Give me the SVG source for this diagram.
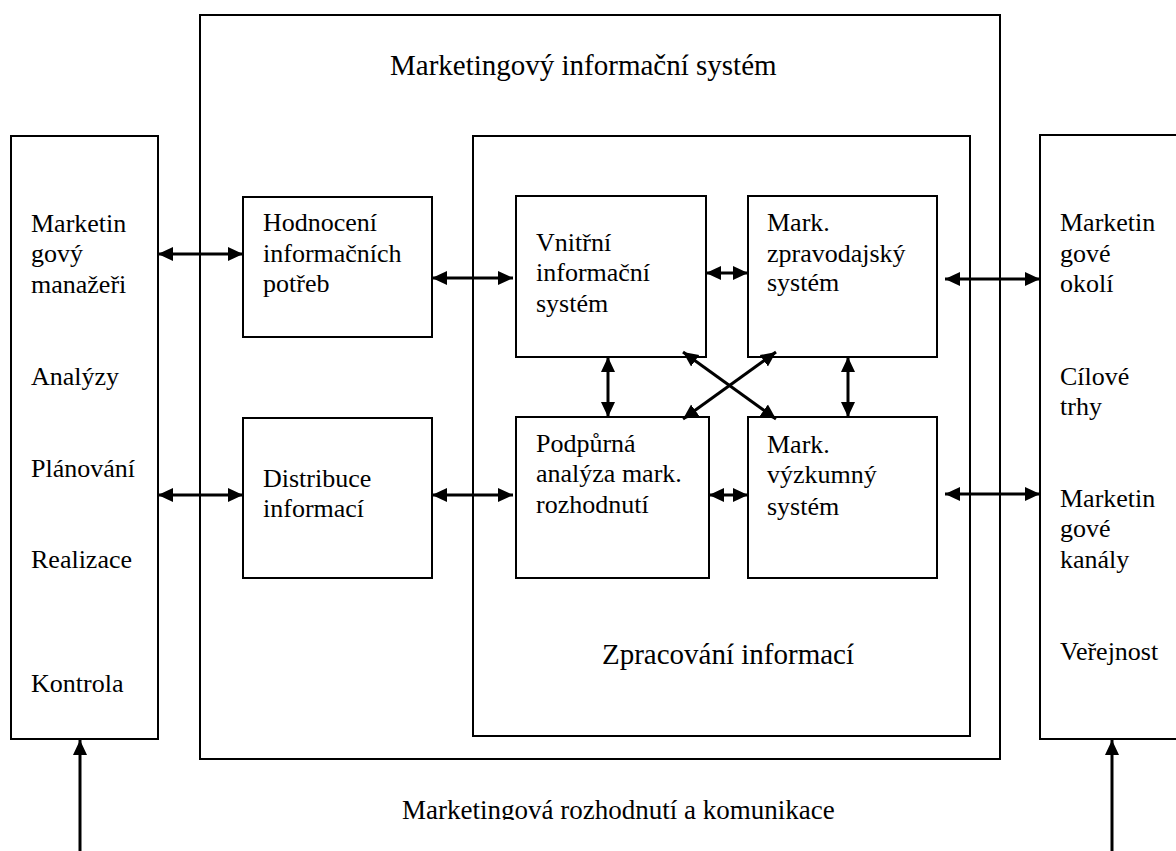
<svg xmlns="http://www.w3.org/2000/svg" width="1176" height="851" viewBox="0 0 1176 851">
<style>
.box{fill:none;stroke:#000;stroke-width:2}
.t{font-family:"Liberation Serif","Times New Roman",serif;font-size:26px;fill:#000}
.big{font-family:"Liberation Serif","Times New Roman",serif;font-size:29px;fill:#000}
.ar{stroke:#000;stroke-width:3;fill:none;marker-start:url(#ah);marker-end:url(#ah)}
.ar1{stroke:#000;stroke-width:3;fill:none;marker-end:url(#ah)}
</style>
<defs>
<marker id="ah" markerUnits="userSpaceOnUse" markerWidth="16" markerHeight="16" refX="15" refY="7" orient="auto-start-reverse" viewBox="0 0 16 14">
<path d="M0,0 L15,7 L0,14 z" fill="#000"/>
</marker>
<clipPath id="bc"><rect x="0" y="0" width="1176" height="820"/></clipPath>
</defs>
<rect width="1176" height="851" fill="#fff"/>

<g id="mis">
<rect class="box" x="200" y="15" width="800" height="744"/>
<text class="big" x="390" y="75">Marketingový informační systém</text>
</g>

<g id="left">
<rect class="box" x="11" y="136" width="147" height="603"/>
<text class="t" x="31" y="232">Marketin</text>
<text class="t" x="31" y="262">gový</text>
<text class="t" x="31" y="293">manažeři</text>
<text class="t" x="31" y="385">Analýzy</text>
<text class="t" x="31" y="477">Plánování</text>
<text class="t" x="31" y="568">Realizace</text>
<text class="t" x="31" y="692">Kontrola</text>
</g>

<g id="right">
<rect class="box" x="1040" y="135" width="200" height="604"/>
<text class="t" x="1060" y="231">Marketin</text>
<text class="t" x="1060" y="262">gové</text>
<text class="t" x="1060" y="292">okolí</text>
<text class="t" x="1060" y="385">Cílové</text>
<text class="t" x="1060" y="415">trhy</text>
<text class="t" x="1060" y="507">Marketin</text>
<text class="t" x="1060" y="537">gové</text>
<text class="t" x="1060" y="568">kanály</text>
<text class="t" x="1060" y="660">Veřejnost</text>
</g>

<g id="hodnoceni">
<rect class="box" x="243" y="197" width="189" height="140"/>
<text class="t" x="263" y="231">Hodnocení</text>
<text class="t" x="263" y="262">informačních</text>
<text class="t" x="263" y="292">potřeb</text>
</g>

<g id="distribuce">
<rect class="box" x="243" y="418" width="189" height="160"/>
<text class="t" x="263" y="487">Distribuce</text>
<text class="t" x="263" y="517">informací</text>
</g>

<g id="zpracovani">
<rect class="box" x="473" y="136" width="497" height="600"/>
<text class="big" x="602" y="664">Zpracování informací</text>
</g>

<g id="vnitrni">
<rect class="box" x="516" y="196" width="190" height="161"/>
<text class="t" x="536" y="251">Vnitřní</text>
<text class="t" x="536" y="281">informační</text>
<text class="t" x="536" y="312">systém</text>
</g>

<g id="zpravodajsky">
<rect class="box" x="748" y="196" width="189" height="161"/>
<text class="t" x="767" y="231">Mark.</text>
<text class="t" x="767" y="262">zpravodajský</text>
<text class="t" x="767" y="291">systém</text>
</g>

<g id="podpurna">
<rect class="box" x="516" y="417" width="193" height="161"/>
<text class="t" x="536" y="452">Podpůrná</text>
<text class="t" x="536" y="482">analýza mark.</text>
<text class="t" x="536" y="513">rozhodnutí</text>
</g>

<g id="vyzkumny">
<rect class="box" x="748" y="417" width="189" height="161"/>
<text class="t" x="767" y="453">Mark.</text>
<text class="t" x="767" y="483">výzkumný</text>
<text class="t" x="767" y="515">systém</text>
</g>

<g id="bottom-label">
<text class="t" x="402" y="819" font-size="27" clip-path="url(#bc)" style="font-size:27px">Marketingová rozhodnutí a komunikace</text>
</g>

<g id="connectors">
<line class="ar" x1="158" y1="254" x2="243" y2="254"/>
<line class="ar" x1="158" y1="495" x2="243" y2="495"/>
<line class="ar" x1="432" y1="278" x2="513" y2="278"/>
<line class="ar" x1="432" y1="495" x2="513" y2="495"/>
<line class="ar" x1="706" y1="273" x2="748" y2="273"/>
<line class="ar" x1="709" y1="495" x2="748" y2="495"/>
<line class="ar" x1="608" y1="357" x2="608" y2="417"/>
<line class="ar" x1="848" y1="357" x2="848" y2="417"/>
<line class="ar" x1="683" y1="352" x2="776" y2="419"/>
<line class="ar" x1="776" y1="352" x2="683" y2="419"/>
<line class="ar" x1="945" y1="279" x2="1040" y2="279"/>
<line class="ar" x1="945" y1="494" x2="1040" y2="494"/>
<line class="ar1" x1="80" y1="851" x2="80" y2="740"/>
<line class="ar1" x1="1112" y1="851" x2="1112" y2="740"/>
</g>
</svg>
